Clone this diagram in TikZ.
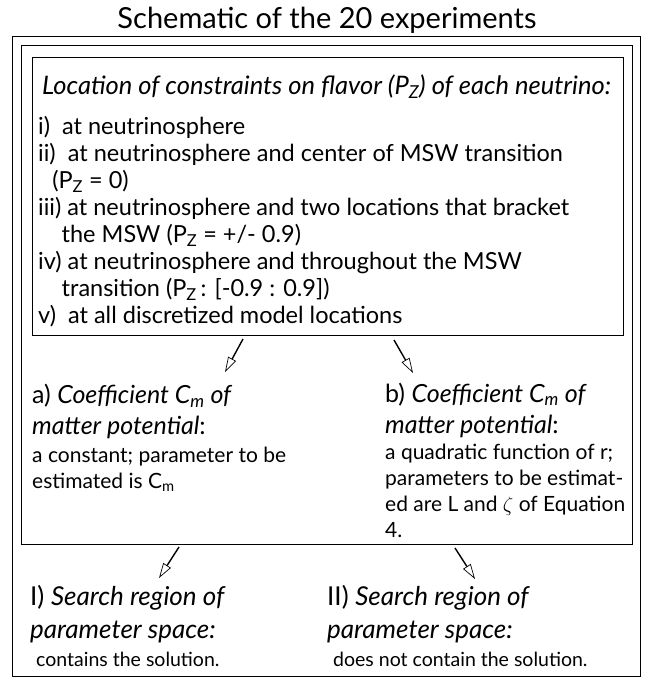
\documentclass[tikz,border=0pt]{standalone}
\usepackage{fontspec}
\setmainfont{Lato}
\usetikzlibrary{arrows.meta,positioning}

\tikzset{
  framebox/.style={draw, line width=1.1pt, inner sep=0pt, anchor=north west},
  textblock/.style={inner sep=0pt, anchor=north west, align=left},
  flowarrow/.style={line width=1.4pt, -{Triangle[open, length=15pt, width=9pt, line width=0.7pt]}},
  headfont/.style={font=\fontsize{25}{31}\selectfont},
  bodyfont/.style={font=\fontsize{21}{26}\selectfont}
}

\begin{document}
\begin{tikzpicture}[x=1pt, y=-1pt]
\useasboundingbox (0,0) rectangle (654,688);

% title and the three frames
\node[anchor=base, inner sep=0pt, font=\fontsize{29}{32}\selectfont] (title) at (327,28) {Schematic of the 20 experiments};
\node[framebox, minimum width=628pt, minimum height=640pt] (outer) at (12,36) {};
\node[framebox, minimum width=611pt, minimum height=499pt] (frame) at (21,45) {};
\node[framebox, minimum width=591pt, minimum height=278pt] (locbox) at (32,57) {};

% constraints on flavor
\node[anchor=base west, inner sep=0pt, font=\fontsize{25.5}{28}\selectfont\itshape] (lochead) at (42,94)
  {Location of constraints on flavor (P\textsubscript{Z}) of each neutrino:};
\node[textblock, font=\fontsize{23.5}{27}\selectfont] (loclist) at (38,116.5)
  {i)\ \ at neutrinosphere\\
   ii)\ \ at neutrinosphere and center of MSW transition\\
   \hspace*{0.6em}(P\textsubscript{Z} = 0)\\
   iii) at neutrinosphere and two locations that bracket\\
   \hspace*{1em}the MSW (P\textsubscript{Z} = +/- 0.9)\\
   iv) at neutrinosphere and throughout the MSW\\
   \hspace*{1em}transition (P\textsubscript{Z}\,: [-0.9 : 0.9])\\
   v)\ \ at all discretized model locations};

% matter potential
\node[textblock, headfont] (ahead) at (32,384)
  {a) \textit{Coefficient C\textsubscript{m} of}\\ \textit{matter potential}:};
\node[textblock, bodyfont, below=8pt of ahead.south west, anchor=north west] (abody)
  {a constant; parameter to be\\ estimated is C\textsubscript{m}};
\node[textblock, headfont] (bhead) at (385,382.5)
  {b) \textit{Coefficient C\textsubscript{m} of}\\ \textit{matter potential}:};
\node[textblock, bodyfont, below=6pt of bhead.south west, anchor=north west] (bbody)
  {a quadratic function of r;\\ parameters to be estimat-\\ ed are L and $\zeta$ of Equation\\ 4.};

% search region
\node[textblock, font=\fontsize{26}{33}\selectfont] (Ihead) at (30,585)
  {I) \textit{Search region of}\\ \textit{parameter space:}};
\node[textblock, font=\fontsize{19.5}{24}\selectfont, below=9pt of Ihead.south west, anchor=north west, xshift=6pt] (Ibody)
  {contains the solution.};
\node[textblock, font=\fontsize{26}{33}\selectfont] (IIhead) at (327,585)
  {II) \textit{Search region of}\\ \textit{parameter space:}};
\node[textblock, font=\fontsize{19.5}{24}\selectfont, below=9pt of IIhead.south west, anchor=north west, xshift=6pt] (IIbody)
  {does not contain the solution.};

% arrows
\coordinate (a1s) at (243,339);
\coordinate (a1e) at (225,372);
\coordinate (a2s) at (394,340);
\coordinate (a2e) at (413,373);
\coordinate (b1s) at (179,547);
\coordinate (b1e) at (159,578);
\coordinate (b2s) at (455,548);
\coordinate (b2e) at (475,579);
\draw[flowarrow] (a1s) -- (a1e);
\draw[flowarrow] (a2s) -- (a2e);
\draw[flowarrow] (b1s) -- (b1e);
\draw[flowarrow] (b2s) -- (b2e);
\end{tikzpicture}
\end{document}
